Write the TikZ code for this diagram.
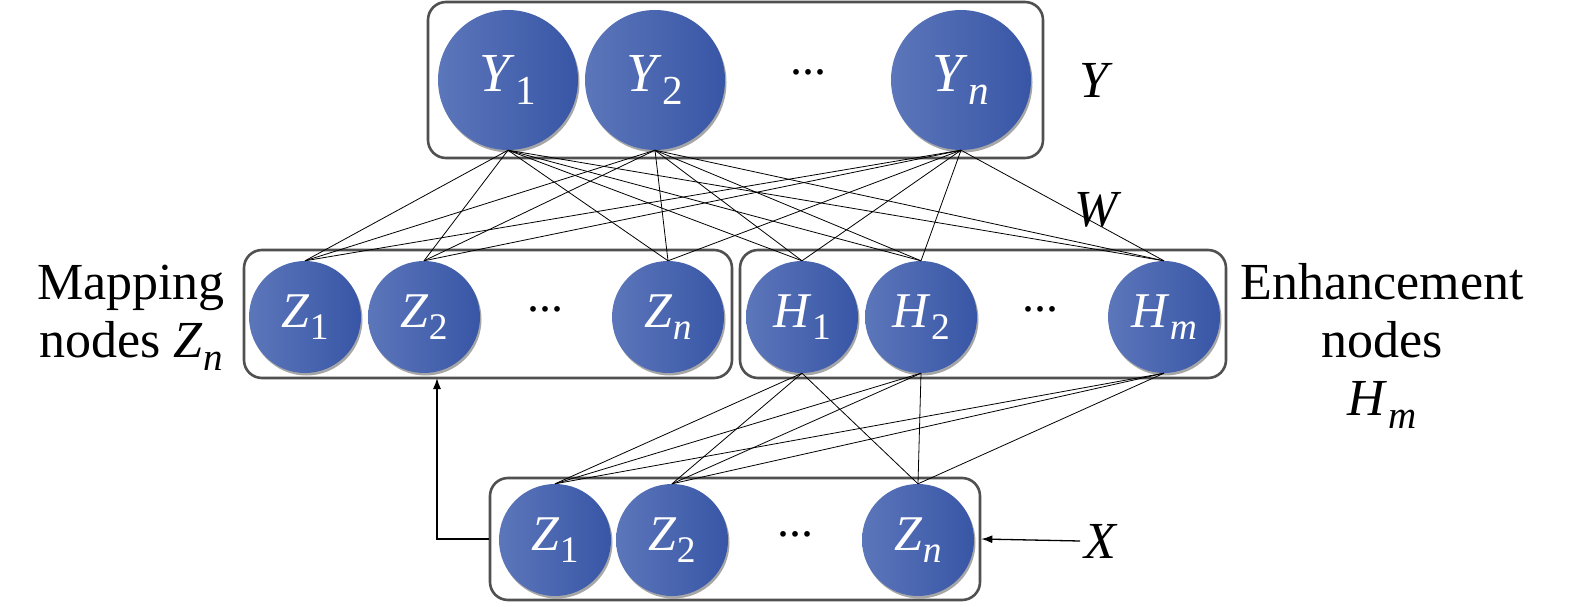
\documentclass[tikz,border=0pt]{standalone}
\usepackage{fontspec}
\setmainfont{Liberation Serif}
\usetikzlibrary{shadows,arrows.meta}
\definecolor{nlight}{RGB}{92,118,186}
\definecolor{ndark}{RGB}{56,86,166}
\definecolor{boxgray}{RGB}{80,80,80}
\newcommand{\vsub}[2]{\textit{#1}\kern0.5pt\raisebox{-0.25em}{\scalebox{0.75}{#2}}}
\begin{document}
\begin{tikzpicture}[x=1pt,y=-1pt,
  neuron/.style={circle, inner sep=0pt, left color=nlight, right color=ndark, text=white,
    font=\fontsize{50}{50}\selectfont,
    drop shadow={shadow xshift=1.5pt, shadow yshift=-2.5pt, opacity=0.35, fill=black}},
  bigneuron/.style={neuron, minimum size=140pt, font=\fontsize{55}{55}\selectfont},
  midneuron/.style={neuron, minimum size=112pt},
  layerbox/.style={draw=boxgray, line width=2.6pt, rounded corners=18pt, inner sep=0pt},
  wire/.style={line width=0.8pt, black},
  arr/.style={line width=1.3pt, -{Latex[length=11pt,width=8pt]}},
  lab/.style={font=\fontsize{52}{58}\selectfont, align=center, inner sep=0pt},
  dots/.style={font=\fontsize{48}{48}\selectfont, inner sep=0pt}
]
\useasboundingbox (0,0) rectangle (1575,607);

% boxes
\node[layerbox, minimum width=615pt, minimum height=156pt] (top) at (735.5,80) {};
\node[layerbox, minimum width=488pt, minimum height=128pt] (midL) at (488,314) {};
\node[layerbox, minimum width=486pt, minimum height=128pt] (midR) at (983,314) {};
\node[layerbox, minimum width=490pt, minimum height=122pt] (bot) at (735,539) {};

% top neurons
\node[bigneuron] (y1) at (508,80) {\vsub{Y}{1}};
\node[bigneuron] (y2) at (655,80) {\vsub{Y}{2}};
\node[bigneuron] (yn) at (961,80) {\vsub{Y}{\textit{n}}};
\node[dots] (ydots) at (808,72) {...};

% middle neurons
\node[midneuron] (z1) at (305,317) {\vsub{Z}{1}};
\node[midneuron] (z2) at (424,317) {\vsub{Z}{2}};
\node[midneuron] (zn) at (668,317) {\vsub{Z}{\textit{n}}};
\node[dots] (zdots) at (545,309) {...};
\node[midneuron] (h1) at (802,317) {\vsub{H}{1}};
\node[midneuron] (h2) at (921,317) {\vsub{H}{2}};
\node[midneuron] (hm) at (1164,317) {\vsub{H}{\textit{m}}};
\node[dots] (hdots) at (1040,309) {...};

% bottom neurons
\node[midneuron] (x1) at (555,540) {\vsub{Z}{1}};
\node[midneuron] (x2) at (672,540) {\vsub{Z}{2}};
\node[midneuron] (xn) at (918,540) {\vsub{Z}{\textit{n}}};
\node[dots] (xdots) at (795,534) {...};

% wires Y -> middle
\foreach \a in {y1,y2,yn}{
  \foreach \b in {z1,z2,zn,h1,h2,hm}{
    \draw[wire] (\a.south) -- (\b.north);
  }
}
% wires H -> bottom
\foreach \a in {h1,h2,hm}{
  \foreach \b in {x1,x2,xn}{
    \draw[wire] (\a.south) -- (\b.north);
  }
}

% labels
\node[lab] (ylab) at (1096,80) {\textit{Y}};
\node[lab] (wlab) at (1098,210) {\textit{W}};
\node[lab] (xlab) at (1101,541) {\textit{X}};
\node[lab] (maplab) at (131,318) {Mapping\\nodes \vsub{Z}{\textit{n}}};
\node[lab] (enhlab) at (1382,346) {Enhancement\\nodes\\\vsub{H}{\textit{m}}};

% arrows
\coordinate (xa) at ([xshift=-4pt]xlab.west);
\draw[arr] (xa) -- (bot.east);
\coordinate (up) at (437,378);
\draw[arr] (bot.west) -| (up);
\end{tikzpicture}
\end{document}
